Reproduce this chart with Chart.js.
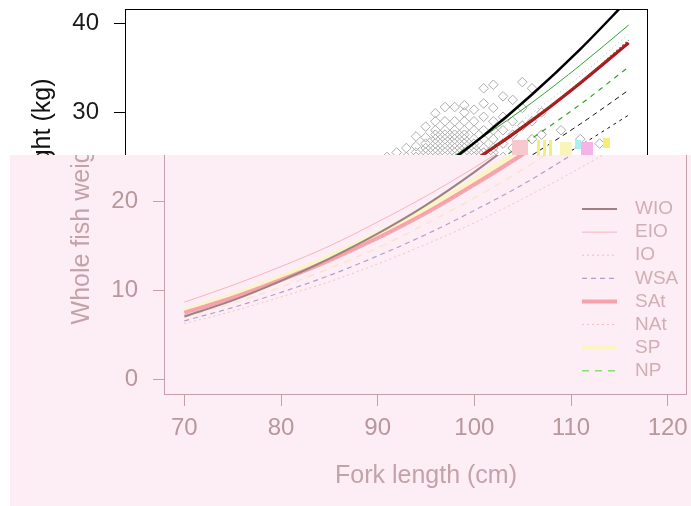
<!DOCTYPE html>
<html>
<head>
<meta charset="utf-8">
<script src="https://cdn.jsdelivr.net/npm/chart.js@4.4.1/dist/chart.umd.min.js"></script>
<style>
  body { margin: 0; width: 691px; height: 506px; overflow: hidden; background: #fff; }
  #arriba { position: absolute; left: 0; top: 0; }
  #rosa { position: absolute; left: 10px; top: 155px; width: 681px; height: 351px; overflow: hidden; background: #fdeef5; }
  #abajo { position: absolute; left: -10px; top: -155px; }
  .glitch { position: absolute; }
</style>
</head>
<body>
<canvas id="arriba" width="691" height="506"></canvas>
<div id="rosa"><canvas id="abajo" width="691" height="506"></canvas></div>
<div class="glitch" style="left:512px;top:140px;width:16px;height:15px;background:#f6c9cf"></div>
<div class="glitch" style="left:537px;top:140px;width:3px;height:16px;background:#f3ee7a"></div>
<div class="glitch" style="left:543px;top:140px;width:3px;height:16px;background:#f3ee7a"></div>
<div class="glitch" style="left:549px;top:140px;width:3px;height:16px;background:#f3ee7a"></div>
<div class="glitch" style="left:560px;top:142px;width:12px;height:14px;background:#f9f5b8"></div>
<div class="glitch" style="left:575px;top:140px;width:6px;height:9px;background:#a9f0ee"></div>
<div class="glitch" style="left:581px;top:142px;width:12px;height:13px;background:#f6b4e6"></div>
<div class="glitch" style="left:603px;top:138px;width:7px;height:10px;background:#f4ee74"></div>
<script>
// fork length (cm) where each curve is read
var longitudes = [70, 75, 80, 85, 90, 95, 100, 105, 110, 115, 120];

// whole fish weight (kg)
var pesoWIO = [7.1, 8.9, 11.1, 13.6, 16.4, 19.6, 23.3, 27.4, 32.0, 37.1, 42.7];
var pesoEIO = [8.7, 10.6, 12.7, 15.0, 17.7, 20.6, 23.8, 27.3, 31.1, 35.3, 39.8];
var pesoIO  = [7.3, 9.0, 11.0, 13.2, 15.8, 18.6, 21.8, 25.3, 29.2, 33.4, 38.1];
var pesoWSA = [6.6, 8.1, 9.8, 11.7, 13.9, 16.3, 19.0, 21.9, 25.2, 28.7, 32.5];
var pesoSAt = [7.5, 9.2, 11.2, 13.4, 15.9, 18.7, 21.9, 25.3, 29.1, 33.3, 37.8];
var pesoNAt = [6.3, 7.7, 9.3, 11.0, 13.0, 15.2, 17.6, 20.3, 23.2, 26.3, 29.7];
var pesoSP  = [7.7, 9.5, 11.5, 13.8, 16.4, 19.2, 22.4, 26.0, 29.9, 34.1, 38.8];
var pesoNP  = [7.0, 8.6, 10.4, 12.5, 14.8, 17.5, 20.4, 23.6, 27.1, 30.9, 35.1];

var regiones = ["WIO", "EIO", "IO", "WSA", "SAt", "NAt", "SP", "NP"];
var curvas = [pesoWIO, pesoEIO, pesoIO, pesoWSA, pesoSAt, pesoNAt, pesoSP, pesoNP];

var ticksX = [70, 80, 90, 100, 110, 120];
var ticksY = [0, 10, 20, 30, 40];

// observed fish: one column per fork length, with the weights seen there
var obsLongitud = [94, 95, 96, 97, 98, 99, 100, 101, 102, 103, 104, 105, 106, 107, 108, 109, 110, 111, 113, 115, 117];
var obsPesos = [
  [23, 24.2],
  [23, 24, 25],
  [23, 23.5, 24, 24.5, 25.5],
  [23, 23.5, 24, 24.5, 25, 26],
  [23, 23.5, 24, 24.5, 25, 25.5, 26.2, 27.3],
  [23, 23.5, 24, 24.5, 25, 25.5, 26, 26.5, 27.2, 28.4],
  [23, 23.5, 24, 24.5, 25, 25.5, 26, 26.5, 27, 27.5, 28, 29, 29.9],
  [23, 23.5, 24, 24.5, 25, 25.5, 26, 26.5, 27, 27.5, 28, 29, 30.6],
  [23, 23.5, 24, 24.5, 25, 25.5, 26, 26.5, 27, 27.5, 28, 29, 30.6],
  [23, 23.5, 24, 24.5, 25, 25.5, 26, 26.5, 27, 27.5, 28, 29, 30, 30.8],
  [24, 24.5, 25, 25.5, 26, 26.5, 27, 28, 29, 30.3],
  [24, 24.5, 25, 25.5, 26, 27, 28, 29.5, 31, 32.7],
  [25, 25.5, 26, 27, 28, 29, 30.5, 33.1],
  [25, 26.5, 28, 29.5, 31.8],
  [26, 27.5, 29, 31.4],
  [26, 28.5, 30.5, 33.4],
  [27, 29, 32.7],
  [27.5, 30],
  [28],
  [27],
  [26.5]
];

var puntosObs = [];
for (var i = 0; i < obsLongitud.length; i++) {
  for (var j = 0; j < obsPesos[i].length; j++) {
    puntosObs.push({ x: obsLongitud[i], y: obsPesos[i][j] });
  }
}

// original colours (top) and the washed out pink copy (bottom)
var estiloNegro = [
  { color: "#000000", ancho: 2.5, guion: [] },
  { color: "#33a02c", ancho: 1, guion: [] },
  { color: "#7b4b2a", ancho: 1.2, guion: [2, 2] },
  { color: "#111111", ancho: 1, guion: [5, 4] },
  { color: "#b3141b", ancho: 3.2, guion: [] },
  { color: "#111111", ancho: 1, guion: [3, 4] },
  { color: "#bdbdbd", ancho: 1, guion: [1, 3] },
  { color: "#33a02c", ancho: 1.2, guion: [5, 5] }
];
var estiloRosa = [
  { color: "#9d8185", ancho: 2, guion: [] },
  { color: "#f6b3be", ancho: 1, guion: [] },
  { color: "#f1b7c6", ancho: 1, guion: [2, 3] },
  { color: "#b49dc9", ancho: 1.2, guion: [5, 4] },
  { color: "#f7a1ab", ancho: 4, guion: [] },
  { color: "#f3c0c0", ancho: 1, guion: [2, 3] },
  { color: "#fbf4c4", ancho: 5, guion: [] },
  { color: "#f6e6d0", ancho: 1.5, guion: [7, 6], leyenda: "#86de70" }
];

Chart.defaults.font.family = 'Arial, "Liberation Sans", sans-serif';
Chart.defaults.animation = false;

// box round the plot region, like R's box()
var marco = {
  id: "marco",
  beforeDatasetsDraw: function (chart, args, o) {
    var a = chart.chartArea, ctx = chart.ctx;
    ctx.save();
    ctx.strokeStyle = o.color;
    ctx.lineWidth = 1;
    ctx.strokeRect(Math.round(a.left) - 0.5, Math.round(a.top) + 0.5, Math.round(a.right - a.left), Math.round(a.bottom - a.top));
    ctx.restore();
  }
};

var leyenda = {
  id: "leyenda",
  afterDatasetsDraw: function (chart, args, o) {
    var a = chart.chartArea, ctx = chart.ctx;
    ctx.save();
    ctx.font = '19px Arial, "Liberation Sans", sans-serif';
    ctx.textBaseline = "middle";
    chart.data.datasets.forEach(function (d, i) {
      if (d.esPunto) return;
      var y = a.bottom - 185 + i * 23.1;
      ctx.strokeStyle = d.colorLeyenda || d.borderColor;
      ctx.lineWidth = d.borderWidth;
      ctx.setLineDash(d.borderDash);
      ctx.beginPath();
      ctx.moveTo(a.right - 105, y);
      ctx.lineTo(a.right - 70, y);
      ctx.stroke();
      ctx.setLineDash([]);
      ctx.fillStyle = o.color;
      ctx.fillText(d.label, a.right - 52, y);
    });
    ctx.restore();
  }
};

function armarGrafico(id, estilos, opc) {
  var datasets = regiones.map(function (r, i) {
    return {
      label: r,
      data: longitudes.map(function (l, j) { return { x: l, y: curvas[i][j] }; }),
      borderColor: estilos[i].color,
      colorLeyenda: estilos[i].leyenda,
      borderWidth: estilos[i].ancho,
      borderDash: estilos[i].guion,
      pointRadius: 0,
      cubicInterpolationMode: "monotone",
      fill: false,
      order: 0
    };
  });
  if (opc.puntos) {
    datasets.push({
      label: "",
      esPunto: true,
      data: puntosObs,
      showLine: false,
      pointStyle: "rectRot",
      pointRadius: 4.8,
      pointBorderColor: "#ababab",
      pointBackgroundColor: "rgba(0,0,0,0)",
      pointBorderWidth: 1,
      order: 1
    });
  }
  var rejilla = { drawOnChartArea: false, drawTicks: true, tickLength: 12, color: opc.eje, lineWidth: 1 };
  return new Chart(document.getElementById(id).getContext("2d"), {
    type: "line",
    data: { datasets: datasets },
    options: {
      responsive: false,
      layout: { padding: { left: 0, top: 9, right: opc.derecha, bottom: 0 } },
      plugins: {
        legend: { display: false },
        tooltip: { enabled: false },
        marco: { color: opc.eje },
        leyenda: { color: opc.textoLeyenda }
      },
      scales: {
        x: {
          type: "linear",
          min: 68,
          max: 122,
          afterBuildTicks: function (s) { s.ticks = ticksX.map(function (v) { return { value: v }; }); },
          afterFit: function (s) { s.height = 112; s.paddingLeft = 0; s.paddingRight = 0; },
          grid: rejilla,
          border: { display: false },
          ticks: { color: opc.texto, font: { size: 24 }, padding: 8, maxRotation: 0, autoSkip: false },
          title: { display: true, text: "Fork length (cm)", color: opc.titulo, font: { size: 25 }, padding: { top: 0, bottom: 15 } }
        },
        y: {
          min: -1.6,
          max: 41.6,
          afterBuildTicks: function (s) { s.ticks = ticksY.map(function (v) { return { value: v }; }); },
          afterFit: function (s) { s.width = opc.izquierda; s.paddingTop = 0; s.paddingBottom = 0; },
          grid: rejilla,
          border: { display: false },
          ticks: { color: opc.texto, font: { size: 24 }, padding: 15, autoSkip: false },
          title: { display: true, text: "Whole fish weight (kg)", color: opc.titulo, font: { size: 25 }, padding: { top: opc.tituloY, bottom: 0 } }
        }
      }
    },
    plugins: opc.conLeyenda ? [marco, leyenda] : [marco]
  });
}

var grafArriba = armarGrafico("arriba", estiloNegro, {
  puntos: true, izquierda: 126, derecha: 43, tituloY: 28,
  eje: "#000000", texto: "#1a1a1a", titulo: "#111111", conLeyenda: false
});
var grafAbajo = armarGrafico("abajo", estiloRosa, {
  puntos: false, izquierda: 165, derecha: 4, tituloY: 67,
  eje: "#c4a0a8", texto: "#b8979d", titulo: "#c4a2aa", textoLeyenda: "#d2aeb4", conLeyenda: true
});
</script>
</body>
</html>
